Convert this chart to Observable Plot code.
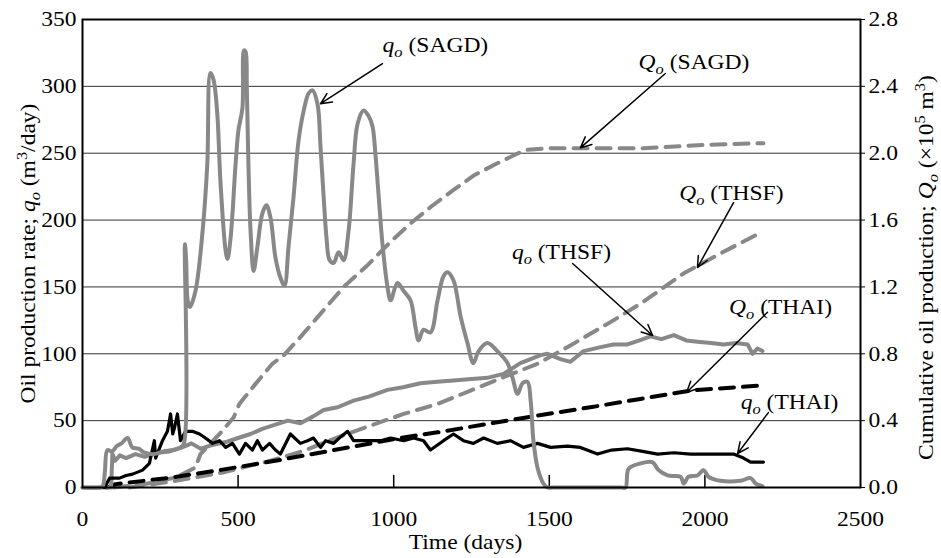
<!DOCTYPE html>
<html><head><meta charset="utf-8">
<script src="https://cdn.jsdelivr.net/npm/d3@7"></script>
<script src="https://cdn.jsdelivr.net/npm/@observablehq/plot@0.6"></script>
<style>body{margin:0;background:#fff}</style>
</head><body><div id="chart"></div>
<script>
// ---------- data ----------
const sagdRateDays = [0,55,65,72,80,95,110,125,145,160,180,200,230,260,290,315,326,329,333,338,345,363,386,401,411,421,433,443,460,466,476,492,501,514,519,524,528,532,540,550,562,578,591,604,620,636,649,662,678,694,711,727,739,755,765,775,784,794,807,823,839,855,871,884,903,919,932,941,951,964,980,990,1012,1032,1054,1070,1080,1096,1118,1141,1160,1173,1192,1215,1237,1256,1273,1301,1333,1366,1382,1398,1414,1430,1440,1449,1462,1481,1494,1510,1730,1745,1755,1793,1831,1851,1880,1922,1932,1947,1976,1996,2012,2050,2114,2147,2163,2185];
const sagdRate = [0,0,1,12,28,27,31,33,37,30,29,26,25,27,28,30,33,182,170,140,135,147,192,242,310,305,280,230,177,171,187,242,267,284,327,326,300,254,192,162,180,205,211,202,172,157,151,180,217,259,282,295,297,287,254,217,187,170,168,176,170,192,242,272,282,278,270,250,220,182,150,140,153,147,140,120,110,118,116,140,158,161,155,128,108,93,102,108,102,93,82,70,78,79,65,35,15,3,0,0,0,0,14,18,19,13,9,8,3,8,9,13,8,5,5,7,3,1];

const thsfRateDays = [0,92,96,105,120,140,170,200,240,280,320,350,380,420,460,500,540,580,620,660,700,740,775,820,871,920,980,1030,1086,1140,1192,1240,1301,1353,1407,1440,1472,1494,1536,1568,1610,1665,1706,1751,1790,1825,1860,1900,1940,1976,2020,2060,2100,2137,2153,2169,2185];
const thsfRate = [0,0,25,20,24,22,25,23,26,27,30,33,29,32,34,37,40,44,47,50,48,53,58,60,65,68,73,75,78,79,80,81,82,85,93,96,99,100,96,94,102,105,107,107,110,113,111,114,110,109,108,107,108,107,100,104,102];

const thaiRateDays = [0,72,80,87,119,140,161,193,215,231,235,257,273,283,290,296,305,315,331,353,376,395,418,440,460,482,504,524,546,562,578,601,620,636,668,700,723,742,765,781,807,830,852,871,903,958,990,1032,1064,1096,1118,1160,1192,1224,1256,1289,1333,1375,1417,1462,1504,1558,1600,1655,1700,1751,1800,1848,1900,1954,2000,2092,2124,2147,2188];
const thaiRate = [0,0,4,7,7,9,10,13,18,35,22,35,42,55,40,45,55,35,42,42,40,37,33,35,30,33,25,33,28,35,28,33,28,25,40,33,35,37,30,35,33,38,42,35,35,35,37,35,37,35,28,35,40,35,33,37,33,35,30,33,30,31,30,25,28,29,27,25,26,25,25,25,22,19,19];

// cumulative production, x10^5 m3 (right axis)
const sagdCumDays = [100,200,300,363,379,420,450,486,504,556,610,646,700,742,839,916,990,1054,1120,1192,1260,1333,1400,1430,1500,1800,2000,2188];
const sagdCum = [0,0.02,0.06,0.12,0.2,0.28,0.34,0.42,0.5,0.62,0.74,0.79,0.9,0.99,1.2,1.33,1.47,1.58,1.68,1.78,1.87,1.94,2.0,2.02,2.03,2.03,2.05,2.06];
const thsfCumDays = [150,300,450,604,711,820,925,1032,1141,1247,1353,1462,1568,1706,1793,1870,1931,2060,2185];
const thsfCum = [0,0.04,0.09,0.16,0.22,0.3,0.37,0.44,0.5,0.58,0.66,0.74,0.85,1.0,1.1,1.2,1.28,1.41,1.53];
const thaiCumDays = [80,106,289,460,620,797,1032,1141,1301,1462,1632,1793,1954,2179];
const thaiCum = [0,0.02,0.06,0.11,0.16,0.22,0.3,0.33,0.38,0.43,0.48,0.53,0.58,0.61];

const xTicks = [0,500,1000,1500,2000,2500];
const xInnerTicks = [500,1000,1500,2000];
const leftTicks = [0,50,100,150,200,250,300,350];
const gridValues = [50,100,150,200,250,300];
const rightTicks = [0,0.4,0.8,1.2,1.6,2.0,2.4,2.8];
const rightScale = 350 / 2.8;

const annLabels = ["q_o (SAGD)","Q_o (SAGD)","q_o (THSF)","Q_o (THSF)","Q_o (THAI)","q_o (THAI)"];
const annTextX = [1134,1965,1539,2085,2243,2272];
const annTextY = [330.5,318,175.8,220,134.6,63.6];
const annFromX = [964,1873,1575,2092,2201,2204];
const annFromY = [317,309.6,167.5,213,131,56];
const annToX = [765,1600,1832,1976,1941,2105];
const annToY = [287,254,113.7,164.5,71,25.4];

const xLabel = "Time (days)";
const yLabelLeft = "Oil production rate; q_o (m^3/day)";
const yLabelRight = "Cumulative oil production; Q_o (×10^5 m^3)";

// ---------- build ----------
const GRAY = "#888888";
const series = (days, vals, k = 1) => days.map((d, i) => ({day: d, v: vals[i] * k}));
const annotations = annLabels.map((label, i) => ({
  label, tx: annTextX[i], ty: annTextY[i],
  x1: annFromX[i], y1: annFromY[i], x2: annToX[i], y2: annToY[i]
}));
const tickShape = {draw(context, l) { context.moveTo(0, 0); context.lineTo(0, -l); }};
const FONT = '"Liberation Serif", "Times New Roman", serif';
const dash = "14,9";

const plot = Plot.plot({
  width: 941, height: 558,
  marginLeft: 82, marginRight: 81, marginTop: 19, marginBottom: 71,
  x: {domain: [0, 2500]},
  y: {domain: [0, 350]},
  style: {fontFamily: FONT, fontSize: "21px", background: "#fff", color: "#000"},
  marks: [
    Plot.ruleY(gridValues, {stroke: "#333", strokeWidth: 1}),
    Plot.axisX({ticks: xTicks, tickSize: 0, tickPadding: 24, label: null, tickFormat: d => String(d)}),
    Plot.axisY({ticks: leftTicks, tickSize: 0, tickPadding: 6, label: null}),
    Plot.axisY({anchor: "right", ticks: rightTicks.map(v => v * rightScale), tickSize: 4, tickPadding: 4,
      tickFormat: d => (d / rightScale).toFixed(1), label: null}),
    Plot.vector(xInnerTicks, {x: d => d, y: 0, length: 12, anchor: "start", rotate: 0, shape: tickShape, stroke: "#000", strokeWidth: 1.5}),
    Plot.line(series(sagdCumDays, sagdCum, rightScale), {x: "day", y: "v", stroke: GRAY, strokeWidth: 4, strokeDasharray: dash}),
    Plot.line(series(thsfCumDays, thsfCum, rightScale), {x: "day", y: "v", stroke: GRAY, strokeWidth: 4, strokeDasharray: dash}),
    Plot.line(series(thaiCumDays, thaiCum, rightScale), {x: "day", y: "v", stroke: "#000", strokeWidth: 4, strokeDasharray: dash}),
    Plot.line(series(thsfRateDays, thsfRate), {x: "day", y: "v", stroke: GRAY, strokeWidth: 4, strokeLinejoin: "round"}),
    Plot.line(series(thaiRateDays, thaiRate), {x: "day", y: "v", stroke: "#000", strokeWidth: 3.2, strokeLinejoin: "round"}),
    Plot.line(series(sagdRateDays, sagdRate), {x: "day", y: "v", stroke: GRAY, strokeWidth: 4, strokeLinejoin: "round", curve: "catmull-rom"}),
    Plot.frame({strokeWidth: 2}),
    Plot.arrow(annotations, {x1: "x1", y1: "y1", x2: "x2", y2: "y2", stroke: "#000", strokeWidth: 1.5, headLength: 12, headAngle: 50}),
    Plot.text(annotations, {x: "tx", y: "ty", text: "label", fontSize: 21}),
    Plot.text([xLabel], {frameAnchor: "bottom", dy: 61, dx: -6, text: d => d, fontSize: 21, textAnchor: "middle"}),
    Plot.text([yLabelLeft], {frameAnchor: "left", dx: -54, dy: 0, rotate: -90, text: d => d, fontSize: 21, textAnchor: "middle"}),
    Plot.text([yLabelRight], {frameAnchor: "right", dx: 66, dy: 14, rotate: -90, text: d => d, fontSize: 21, textAnchor: "middle"})
  ]
});
document.getElementById("chart").append(plot);

// ---------- rich text (italic, sub/superscripts) ----------
function parseRich(s) {
  const parts = [];
  const re = /([qQ])_o|\^(\d)/g;
  let last = 0, m;
  while ((m = re.exec(s))) {
    if (m.index > last) parts.push([s.slice(last, m.index), ""]);
    if (m[1]) { parts.push([m[1], "i"]); parts.push(["o", "isub"]); }
    else parts.push([m[2], "sup"]);
    last = re.lastIndex;
  }
  if (last < s.length) parts.push([s.slice(last), ""]);
  return parts;
}
const NS = "http://www.w3.org/2000/svg";
d3.select(plot).selectAll("text").each(function () {
  const s = this.textContent;
  if (!/_o|\^\d/.test(s)) return;
  const parts = parseRich(s);
  this.textContent = "";
  let shift = 0;
  for (const [t, st] of parts) {
    const ts = document.createElementNS(NS, "tspan");
    const target = st === "isub" ? 5 : st === "sup" ? -8 : 0;
    if (target !== shift) { ts.setAttribute("dy", target - shift); shift = target; }
    if (st === "i" || st === "isub") ts.setAttribute("font-style", "italic");
    if (st === "isub" || st === "sup") ts.setAttribute("font-size", "70%");
    ts.textContent = t;
    this.appendChild(ts);
  }
});
// the reference type is slightly wider than Liberation Serif: stretch along text
d3.select(plot).selectAll("text").each(function () {
  const L = this.getComputedTextLength();
  if (L > 0) {
    this.setAttribute("textLength", (L * 1.12).toFixed(1));
    this.setAttribute("lengthAdjust", "spacingAndGlyphs");
  }
});
</script>
</body></html>
